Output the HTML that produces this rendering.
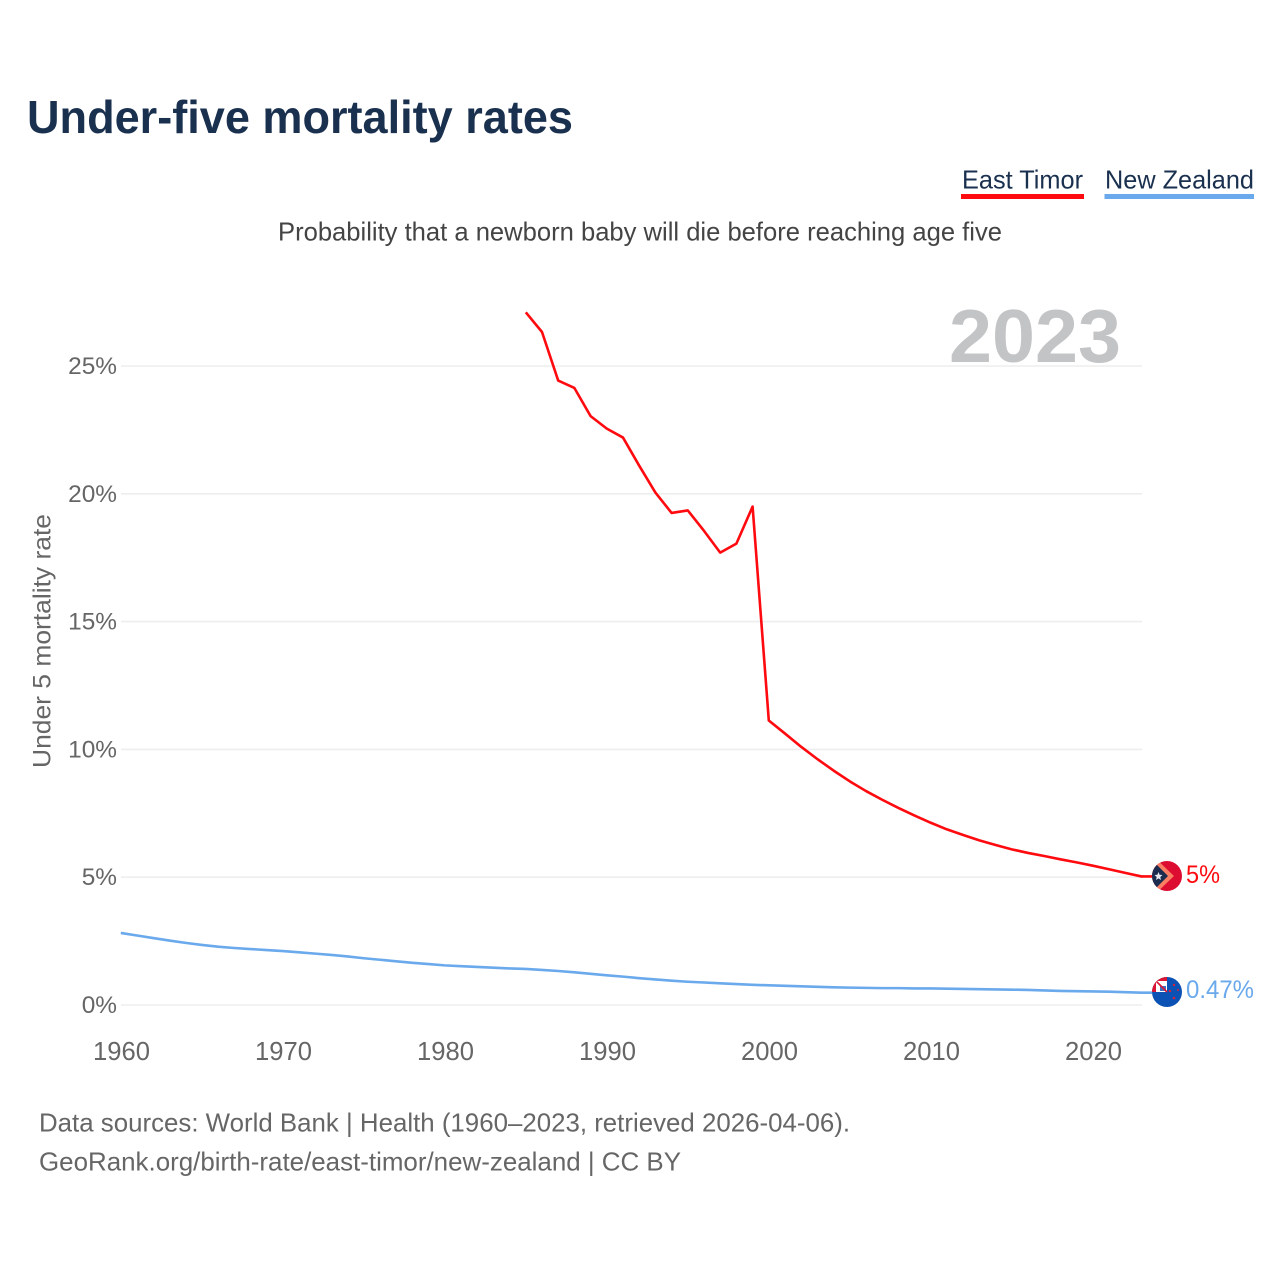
<!DOCTYPE html>
<html lang="en">
<head>
<meta charset="utf-8">
<title>Under-five mortality rates</title>
<style>
html,body{margin:0;padding:0;background:#fff;width:1280px;height:1280px;overflow:hidden}
svg{display:block;font-family:"Liberation Sans",sans-serif}
</style>
</head>
<body>
<svg id="chart" xmlns="http://www.w3.org/2000/svg" width="1280" height="1280" viewBox="0 0 1280 1280">
  <defs>
    <clipPath id="clip-tl"><circle cx="1167" cy="876" r="15"/></clipPath>
    <clipPath id="clip-nz"><circle cx="1167" cy="992" r="15"/></clipPath>
  </defs>
  <rect x="0" y="0" width="1280" height="1280" fill="#fff"/>
  <text x="27" y="133" font-size="46" font-weight="700" fill="#1a304f" textLength="546" lengthAdjust="spacingAndGlyphs">Under-five mortality rates</text>

  <g>
    <text x="962" y="188.5" font-size="26" fill="#1a304f" textLength="121" lengthAdjust="spacingAndGlyphs">East Timor</text>
    <rect x="961" y="194" width="123" height="5" fill="#ff0a0f"/>
  </g>
  <g>
    <text x="1105" y="188.5" font-size="26" fill="#1a304f" textLength="149" lengthAdjust="spacingAndGlyphs">New Zealand</text>
    <rect x="1104.5" y="194" width="149.5" height="5" fill="#6aa9ec"/>
  </g>

  <text x="278" y="240.5" font-size="26" fill="#444" textLength="724" lengthAdjust="spacingAndGlyphs">Probability that a newborn baby will die before reaching age five</text>

  <text x="949" y="362" font-size="75" font-weight="700" fill="#c3c4c6" textLength="172" lengthAdjust="spacingAndGlyphs">2023</text>

  <g id="grid"></g>
  <g id="yticks"></g>
  <g id="xticks"></g>

  <text transform="translate(50.5,768) rotate(-90)" x="0" y="0" font-size="25" fill="#666" textLength="254" lengthAdjust="spacingAndGlyphs">Under 5 mortality rate</text>

  <g id="series"></g>

  <g clip-path="url(#clip-tl)">
    <rect x="1150" y="859" width="34" height="34" fill="#dc0d30"/>
    <polygon points="1150,853 1174,876 1150,899" fill="#fb7d62"/>
    <polygon points="1150,858 1168,876 1150,894" fill="#1b2c4f"/>
    <polygon points="1158.5,872 1159.6,874.8 1162.5,875 1160.3,877 1161,880 1158.5,878.4 1156,880 1156.7,877 1154.5,875 1157.4,874.8" fill="#e8e8ee"/>
  </g>
  <g clip-path="url(#clip-nz)">
    <rect x="1150" y="975" width="34" height="34" fill="#0b52b4"/>
    <rect x="1150" y="975" width="17" height="17" fill="#dc1534"/>
    <rect x="1156" y="981" width="11" height="11" fill="#fff"/>
    <polygon points="1160,986 1166,986 1166,991 1160,991" fill="#3f6fc0"/>
    <line x1="1156" y1="981" x2="1167" y2="992" stroke="#dc1534" stroke-width="1.6"/>
    <circle cx="1174" cy="985" r="1.2" fill="#d8203a"/>
    <circle cx="1178" cy="990" r="1" fill="#d8203a"/>
    <circle cx="1170" cy="991" r="1.2" fill="#d8203a"/>
    <circle cx="1174" cy="998" r="1.3" fill="#d8203a"/>
  </g>

  <text x="1186" y="883" font-size="25" fill="#ff0a0f" textLength="34" lengthAdjust="spacingAndGlyphs">5%</text>
  <text x="1186" y="998" font-size="25" fill="#6aa9ec" textLength="68" lengthAdjust="spacingAndGlyphs">0.47%</text>

  <g>
    <text x="39" y="1131.5" font-size="26" fill="#666" textLength="811" lengthAdjust="spacingAndGlyphs">Data sources: World Bank | Health (1960–2023, retrieved 2026-04-06).</text>
    <text x="39" y="1170.5" font-size="26" fill="#666" textLength="642" lengthAdjust="spacingAndGlyphs">GeoRank.org/birth-rate/east-timor/new-zealand | CC BY</text>
  </g>
</svg>
<script>
const yTickValues = [0, 5, 10, 15, 20, 25];
const yTickLabels = ["0%", "5%", "10%", "15%", "20%", "25%"];
const xTickValues = [1960, 1970, 1980, 1990, 2000, 2010, 2020];
const xTickLabels = ["1960", "1970", "1980", "1990", "2000", "2010", "2020"];
const eastTimorStartYear = 1985;
const eastTimorValues = [27.1, 26.33, 24.43, 24.14, 23.04, 22.55, 22.2, 21.1, 20.05, 19.25, 19.35, 18.55, 17.7, 18.05, 19.5, 11.13, 10.62, 10.1, 9.62, 9.17, 8.75, 8.37, 8.03, 7.71, 7.41, 7.13, 6.87, 6.65, 6.44, 6.26, 6.09, 5.95, 5.83, 5.7, 5.58, 5.45, 5.31, 5.17, 5.03];
const newZealandStartYear = 1960;
const newZealandValues = [2.82, 2.72, 2.62, 2.52, 2.43, 2.35, 2.28, 2.23, 2.19, 2.15, 2.11, 2.06, 2.01, 1.96, 1.9, 1.83, 1.77, 1.71, 1.65, 1.6, 1.55, 1.52, 1.49, 1.46, 1.43, 1.41, 1.37, 1.33, 1.28, 1.22, 1.16, 1.11, 1.05, 1.0, 0.95, 0.91, 0.88, 0.85, 0.82, 0.79, 0.77, 0.75, 0.73, 0.71, 0.69, 0.68, 0.67, 0.66, 0.66, 0.65, 0.65, 0.64, 0.63, 0.62, 0.61, 0.6, 0.59, 0.57, 0.55, 0.54, 0.53, 0.52, 0.5, 0.48];

const NS = "http://www.w3.org/2000/svg";
const xScale = function (year) { return 120.8 + (year - 1960) * 16.2; };
const yScale = function (v) { return 1005 - v * 25.56; };
const gridGroup = document.getElementById("grid");
const yGroup = document.getElementById("yticks");
const xGroup = document.getElementById("xticks");
const seriesGroup = document.getElementById("series");

yTickValues.forEach(function (v, i) {
  const line = document.createElementNS(NS, "line");
  
  
  line.setAttribute("x1", 121);
  line.setAttribute("x2", 1142);
  line.setAttribute("y1", yScale(v));
  line.setAttribute("y2", yScale(v));
  line.setAttribute("stroke", "#eeeeef");
  line.setAttribute("stroke-width", "1.6");
  gridGroup.appendChild(line);

  const label = document.createElementNS(NS, "text");
  
  
  label.setAttribute("x", 117);
  label.setAttribute("y", yScale(v) + 8);
  label.setAttribute("text-anchor", "end");
  label.setAttribute("font-size", "24.4");
  label.setAttribute("fill", "#666");
  label.textContent = yTickLabels[i];
  yGroup.appendChild(label);
});

xTickValues.forEach(function (year, i) {
  const label = document.createElementNS(NS, "text");
  
  
  label.setAttribute("x", xScale(year) + 0.7);
  label.setAttribute("y", 1060);
  label.setAttribute("text-anchor", "middle");
  label.setAttribute("font-size", "25.6");
  label.setAttribute("fill", "#666");
  label.textContent = xTickLabels[i];
  xGroup.appendChild(label);
});

function pathFrom(startYear, values) {
  return values.map(function (v, i) {
    return (i ? "L" : "M") + xScale(startYear + i).toFixed(2) + " " + yScale(v).toFixed(2);
  }).join(" ");
}
function lastY(values) { return yScale(values[values.length - 1]); }

const nzPath = document.createElementNS(NS, "path");


nzPath.setAttribute("d", pathFrom(newZealandStartYear, newZealandValues) + " L1152 " + lastY(newZealandValues).toFixed(2));
nzPath.setAttribute("fill", "none");
nzPath.setAttribute("stroke", "#6aa9ec");
nzPath.setAttribute("stroke-width", "2.6");
nzPath.setAttribute("stroke-linejoin", "round");
seriesGroup.appendChild(nzPath);

const tlPath = document.createElementNS(NS, "path");


tlPath.setAttribute("d", pathFrom(eastTimorStartYear, eastTimorValues) + " L1152 " + lastY(eastTimorValues).toFixed(2));
tlPath.setAttribute("fill", "none");
tlPath.setAttribute("stroke", "#ff0a0f");
tlPath.setAttribute("stroke-width", "2.6");
tlPath.setAttribute("stroke-linejoin", "round");
seriesGroup.appendChild(tlPath);
</script>
</body>
</html>
